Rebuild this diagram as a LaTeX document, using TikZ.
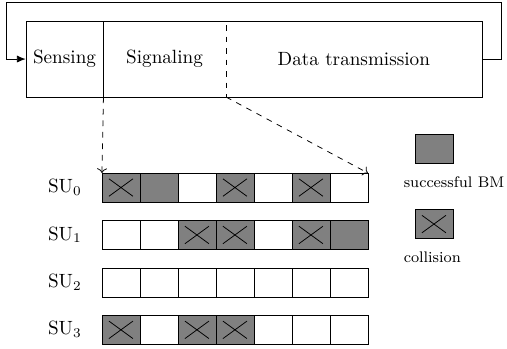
\documentclass[tikz,border=0pt]{standalone}
\usepackage{tikz}
\usetikzlibrary{arrows.meta,calc,positioning}
\tikzset{
  slot/.style={draw,minimum width=.697cm,minimum height=.532cm,inner sep=0pt,outer sep=0pt},
  idle/.style={slot,fill=white},
  bm/.style={slot,fill=gray},
  clash/.style={slot,fill=gray,path picture={
    \draw ([shift={(-.22,-.16)}]path picture bounding box.center)--++(.44,.32)
          ([shift={(-.22,.16)}]path picture bounding box.center)--++(.44,-.32);}},
  keytext/.style={anchor=west,inner sep=0pt,font=\fontsize{8}{10}\selectfont}
}

\begin{document}
\begin{tikzpicture}
\useasboundingbox (0,0) rectangle (9.30,-6.40);
% frame: sensing / signaling / data transmission
\node[draw,minimum width=8.363cm,minimum height=1.395cm,inner sep=0pt] (frame) at (4.659,-1.083) {};
\node[draw,minimum width=1.413cm,minimum height=1.395cm,inner sep=0pt,anchor=west] (sense) at (frame.west) {Sensing};
\node (signal) at (3.018,-1.083) {Signaling};
\node (data) at (6.49,-1.083) {Data transmission};
\coordinate (cut) at (4.147,-1.78);\coordinate (cuttop) at (4.147,-.46);
\draw[dashed] (cuttop)--(cut);
\draw[-{Latex[length=1.6mm,width=1.3mm]}] (frame.east)--++(.35,0) |- (.11,-.05) |- (sense.west);
% slots of the SUs
\foreach \r/\pat in {0/{clash,bm,idle,clash,idle,clash,idle},1/{idle,idle,clash,clash,idle,clash,bm},2/{idle,idle,idle,idle,idle,idle,idle},3/{clash,idle,clash,clash,idle,idle,idle}}{
  \node (su\r) at (1.19,{-3.44-.87*\r}) {$\mathrm{SU}_\r$};
  \foreach \st [count=\c from 0] in \pat
    \node[\st] (c\r\c) at ({2.2185+.697*\c},{-3.44-.87*\r}) {};
}
\draw[dashed,->] (sense.south east)--(c00.north west);
\draw[dashed,->] (cut)--(c06.north east);
% legend
\node[bm] (keybm) at (7.96,-2.733) {};
\node[keytext] (txtbm) at (7.40,-3.34) {successful BM};
\node[clash] (keycol) at (7.96,-4.11) {};
\node[keytext] (txtcol) at (7.40,-4.72) {collision};
\end{tikzpicture}
\end{document}
